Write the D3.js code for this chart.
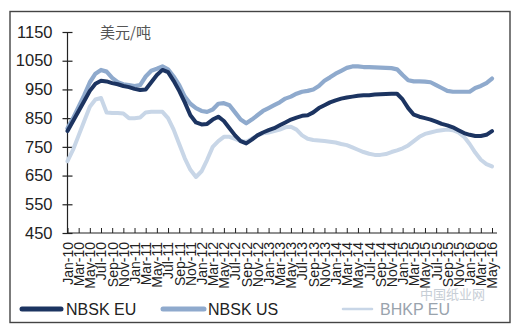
<!DOCTYPE html>
<html>
<head>
<meta charset="utf-8">
<script src="https://cdn.jsdelivr.net/npm/d3@7"></script>
<style>
  html, body { margin: 0; padding: 0; background: #fff; }
  svg { display: block; font-family: "Liberation Sans", Arial, sans-serif; }
</style>
</head>
<body>
<svg id="chart" width="514" height="335"></svg>
<script>
// Monthly pulp prices, USD per tonne, Jan-2010 .. May-2016
const monthNames = ["Jan", "Feb", "Mar", "Apr", "May", "Jun", "Jul", "Aug", "Sep", "Oct", "Nov", "Dec"];
const startYear = 2010;

const nbskEU = [805, 840, 875, 910, 945, 970, 980, 978, 972, 968, 962, 958,
                952, 948, 950, 975, 1000, 1018, 1010, 980, 945, 905, 860, 835,
                828, 830, 845, 855, 840, 815, 790, 770, 762, 775, 790, 800,
                808, 815, 825, 835, 845, 852, 858, 860, 870, 885, 895, 905,
                912, 918, 922, 925, 928, 930, 930, 932, 933, 934, 935, 935,
                915, 885, 862, 855, 850, 845, 838, 830, 825, 818, 808, 798,
                792, 788, 788, 792, 805];

const nbskUS = [815, 850, 890, 930, 975, 1005, 1018, 1012, 990, 975, 968, 965,
                962, 965, 995, 1015, 1022, 1030, 1020, 995, 965, 925, 900, 885,
                875, 872, 880, 900, 902, 895, 870, 845, 832, 845, 860, 875,
                885, 895, 905, 918, 925, 935, 942, 945, 950, 962, 980, 992,
                1005, 1015, 1025, 1030, 1030, 1028, 1028, 1027, 1026, 1025, 1024, 1020,
                1000, 982, 978, 978, 977, 975, 965, 955, 945, 942, 942, 942,
                942, 955, 962, 972, 988];

const bhkpEU = [700, 740, 790, 840, 890, 915, 920, 870, 868, 868, 866, 850,
                850, 852, 870, 872, 872, 872, 850, 810, 760, 710, 670, 645,
                665, 705, 750, 770, 785, 785, 778, 770, 768, 778, 790, 797,
                800, 805, 810, 818, 820, 810, 790, 778, 774, 772, 770, 768,
                765, 760, 756, 748, 740, 732, 726, 722, 722, 725, 732, 738,
                745, 755, 770, 785, 795, 800, 805, 808, 810, 808, 800, 785,
                760, 730, 705, 690, 682];

const yTicks = [450, 550, 650, 750, 850, 950, 1050, 1150];
const unitLabel = "美元/吨";
const seriesNames = ["NBSK EU", "NBSK US", "BHKP EU"];
const seriesColors = ["#1c3461", "#8faacd", "#c8d6e7"];
const watermark = "中国纸业网";

// month index -> "Jan-10" style label
const monthLabel = i => monthNames[i % 12] + "-" + String((startYear + Math.floor(i / 12)) % 100).padStart(2, "0");
const xTickIdx = d3.range(0, nbskEU.length, 2);

const svg = d3.select("#chart");

// outer frame
svg.append("rect")
  .attr("x", 10).attr("y", 11.5).attr("width", 500).attr("height", 311)
  .attr("fill", "#fff").attr("stroke", "#444").attr("stroke-width", 1.4);

const x = d3.scaleLinear().domain([0, nbskEU.length - 1]).range([67.5, 492]);
const y = d3.scaleLinear().domain([450, 1150]).range([233, 32]);

// y axis
const yAxis = svg.append("g")
  .attr("transform", "translate(67.5,0)")
  .call(d3.axisLeft(y).tickValues(yTicks).tickSize(5).tickPadding(10).tickFormat(d3.format("d")));
yAxis.select(".domain").attr("stroke", "#222").attr("stroke-width", 1.2).attr("d", "M0,32V233");
yAxis.selectAll(".tick line").attr("x1", -5).attr("x2", 5).attr("stroke", "#222").attr("stroke-width", 1.2);
yAxis.selectAll(".tick text")
  .attr("fill", "#222").style("font-size", "16.5px").attr("x", -15);

// x axis
const xAxis = svg.append("g")
  .attr("transform", "translate(0,233)")
  .call(d3.axisBottom(x).tickValues(xTickIdx).tickSize(-5).tickFormat(monthLabel));
xAxis.select(".domain").attr("stroke", "#222").attr("stroke-width", 1.2).attr("d", "M67.5,0H497");
xAxis.selectAll(".tick line").attr("stroke", "#222").attr("stroke-width", 1);
xAxis.selectAll(".tick text")
  .attr("fill", "#222")
  .style("font-size", "14px")
  .attr("text-anchor", "end")
  .attr("transform", "rotate(-90)")
  .attr("x", -9)
  .attr("y", 0)
  .attr("dy", "0.35em");

// unit label
svg.append("text")
  .attr("x", 100).attr("y", 38)
  .attr("fill", "#555")
  .style("font-family", "'Noto Sans CJK SC', sans-serif")
  .style("font-size", "15px")
  .text(unitLabel);

// series lines (lightest drawn first)
const line = d3.line().x((d, i) => x(i)).y(d => y(d));
const series = [
  { values: bhkpEU, color: seriesColors[2], width: 4 },
  { values: nbskUS, color: seriesColors[1], width: 4.2 },
  { values: nbskEU, color: seriesColors[0], width: 4 }
];
svg.append("g").selectAll("path")
  .data(series)
  .join("path")
  .attr("d", d => line(d.values))
  .attr("fill", "none")
  .attr("stroke", d => d.color)
  .attr("stroke-width", d => d.width)
  .attr("stroke-linejoin", "round")
  .attr("stroke-linecap", "round");

// legend
const legend = [
  { name: seriesNames[0], color: seriesColors[0], x1: 22, x2: 61, lx: 66, textColor: "#222", w: 5 },
  { name: seriesNames[1], color: seriesColors[1], x1: 163, x2: 204, lx: 208, textColor: "#222", w: 5 },
  { name: seriesNames[2], color: seriesColors[2], x1: 343, x2: 372, lx: 380, textColor: "#9aa3ad", w: 2.5 }
];
const lg = svg.append("g").selectAll("g").data(legend).join("g");
lg.append("line")
  .attr("x1", d => d.x1).attr("x2", d => d.x2)
  .attr("y1", 309).attr("y2", 309)
  .attr("stroke", d => d.color).attr("stroke-width", d => d.w)
  .attr("stroke-linecap", "round");
lg.append("text")
  .attr("x", d => d.lx).attr("y", 315)
  .attr("fill", d => d.textColor)
  .style("font-size", "16px")
  .text(d => d.name);

// site mark over the lower right corner
svg.append("text")
  .attr("x", 420).attr("y", 299)
  .attr("fill", "#b9c2cc").attr("opacity", 0.8)
  .style("font-family", "'Noto Sans CJK SC', sans-serif")
  .style("font-size", "13px")
  .text(watermark);
</script>
</body>
</html>
